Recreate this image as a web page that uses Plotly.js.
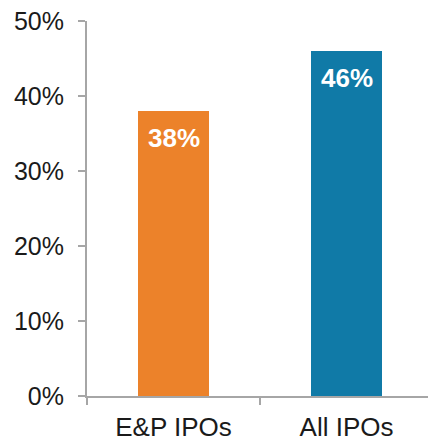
<!DOCTYPE html>
<html>
<head>
<meta charset="utf-8">
<script src="https://cdn.plot.ly/plotly-3.0.1.min.js"></script>
<style>html,body{margin:0;padding:0;background:#fff;}#chart{width:428px;height:442px;}</style>
</head>
<body>
<div id="chart"></div>
<script>
var categories = ["E&P IPOs", "All IPOs"];
var values = [38, 46];
var barColors = ["#EC822A", "#107AA7"];
var yTickVals = [0, 10, 20, 30, 40, 50];

var trace = {
  type: "bar",
  x: categories,
  y: values,
  width: 0.405,
  marker: {color: barColors},
  hoverinfo: "none"
};

var annotations = categories.map(function (c, i) {
  return {
    x: c, y: values[i], xref: "x", yref: "y",
    text: values[i] + "%",
    showarrow: false,
    yanchor: "middle",
    yshift: -27,
    font: {family: "Liberation Sans, Arial, sans-serif", size: 26, color: "#ffffff", weight: "bold"}
  };
});

var layout = {
  width: 428, height: 442,
  margin: {l: 87, r: 0, t: 21, b: 46, pad: 0},
  paper_bgcolor: "#ffffff", plot_bgcolor: "#ffffff",
  showlegend: false,
  font: {family: "Liberation Sans, Arial, sans-serif", color: "#1a1a1a"},
  xaxis: {
    type: "category",
    range: [-0.5, 1.471],
    showline: true, linecolor: "#a6a6a6", linewidth: 2,
    ticks: "outside", tickson: "boundaries", ticklen: 7, tickwidth: 2, tickcolor: "#a6a6a6",
    tickfont: {size: 26, color: "#1a1a1a"},
    ticklabelstandoff: 7,
    showgrid: false, zeroline: false, fixedrange: true
  },
  yaxis: {
    range: [0, 50],
    tickvals: yTickVals,
    ticktext: yTickVals.map(function (v) { return v + "%"; }),
    showline: true, linecolor: "#a6a6a6", linewidth: 2,
    ticks: "outside", ticklen: 7, tickwidth: 2, tickcolor: "#a6a6a6",
    tickfont: {size: 25, color: "#1a1a1a"},
    ticklabelstandoff: 9,
    showgrid: false, zeroline: false, fixedrange: true
  },
  annotations: annotations,
  bargap: 0
};

Plotly.newPlot("chart", [trace], layout, {displayModeBar: false, staticPlot: true});
</script>
</body>
</html>
